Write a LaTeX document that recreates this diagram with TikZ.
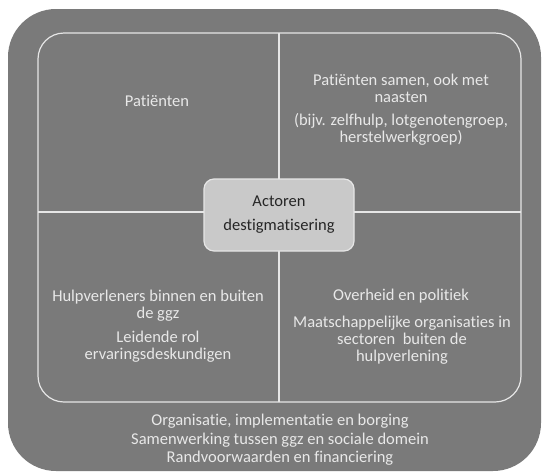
\documentclass[tikz,border=0pt]{standalone}
\usepackage{fontspec}
\setmainfont{Carlito}[Ligatures=NoCommon]
\begin{document}
\begin{tikzpicture}[x=1pt,y=-1pt,
  lbl/.style={text=txtc, font=\fontsize{16.5}{17}\selectfont, align=center, inner sep=0pt},
  divider/.style={draw=linec, line width=1.2pt}]
\definecolor{bgc}{HTML}{7A7A7A}
\definecolor{linec}{HTML}{E6E6E6}
\definecolor{txtc}{HTML}{E8E8E8}
\definecolor{boxc}{HTML}{C9C9C9}
\useasboundingbox (0,0) rectangle (547,475);
\fill[bgc] (8,9) [rounded corners=48pt] rectangle (541,471);
\draw[linec, line width=1.2pt, rounded corners=26pt] (38,33) rectangle (521,402);
\coordinate (vt) at (279,33);
\coordinate (vb) at (279,402);
\coordinate (hl) at (38,212);
\coordinate (hr) at (521,212);
\draw[divider] (vt) -- (vb);
\draw[divider] (hl) -- (hr);
\node[draw=linec, line width=1.2pt, fill=boxc, rounded corners=10pt, minimum width=150pt, minimum height=72pt, text=black!85, font=\fontsize{16.5}{24}\selectfont, align=center] (c) at (279,215) {Actoren\\destigmatisering};
\node[lbl] (tl) at (157,101) {Patiënten};
\node[lbl] (tr1) at (401,88) {Patiënten samen, ook met\\naasten};
\node[lbl] (tr2) at (401,129) {(bijv. zelfhulp, lotgenotengroep,\\herstelwerkgroep)};
\node[lbl] (bl1) at (158,306) {Hulpverleners binnen en buiten\\de ggz};
\node[lbl] (bl2) at (158,347) {Leidende rol\\ervaringsdeskundigen};
\node[lbl] (br1) at (401,296) {Overheid en politiek};
\node[lbl] (br2) at (402,340) {Maatschappelijke organisaties in\\sectoren\ \ buiten de\\hulpverlening};
\node[lbl, font=\fontsize{16.5}{18.5}\selectfont] (bot) at (280,440) {Organisatie, implementatie en borging\\Samenwerking tussen ggz en sociale domein\\Randvoorwaarden en financiering};
\end{tikzpicture}
\end{document}
